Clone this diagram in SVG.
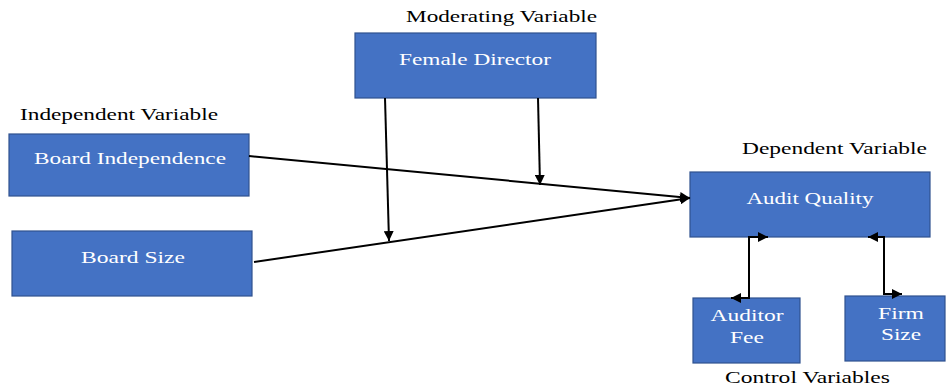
<svg xmlns="http://www.w3.org/2000/svg" width="946" height="387" viewBox="0 0 946 387" font-family="Liberation Serif, DejaVu Serif, serif">
<style>
.box{fill:#4472C4;stroke:#2F528F;stroke-width:1.2}
.bt{font-size:17px;fill:#ffffff;text-anchor:middle}
.lb{font-size:17px;fill:#000000}
.ln{fill:none;stroke:#000000;stroke-width:2}
</style>
<defs>
<marker id="ah" viewBox="0 0 10 10" refX="10" refY="5" markerWidth="5" markerHeight="5" orient="auto-start-reverse" markerUnits="strokeWidth">
<path d="M0,0 L10,5 L0,10 z" fill="#000000"/>
</marker>
</defs>
<text class="lb" font-family="Liberation Serif, serif" x="406" y="22" textLength="191" lengthAdjust="spacingAndGlyphs">Moderating Variable</text>
<text class="lb" font-family="Liberation Serif, serif" x="20" y="120" textLength="198" lengthAdjust="spacingAndGlyphs">Independent Variable</text>
<text class="lb" font-family="Liberation Serif, serif" x="742" y="154" textLength="185" lengthAdjust="spacingAndGlyphs">Dependent Variable</text>
<text class="lb" font-family="Liberation Serif, serif" x="725" y="383" textLength="165" lengthAdjust="spacingAndGlyphs">Control Variables</text>
<g id="female-director">
<rect class="box" x="355" y="33" width="241" height="65"/>
<text class="bt" font-family="Liberation Serif, serif" x="475" y="65" textLength="152" lengthAdjust="spacingAndGlyphs">Female Director</text>
</g>
<g id="board-independence">
<rect class="box" x="9" y="134" width="240" height="62"/>
<text class="bt" font-family="Liberation Serif, serif" x="130" y="164" textLength="192" lengthAdjust="spacingAndGlyphs">Board Independence</text>
</g>
<g id="board-size">
<rect class="box" x="12" y="231" width="240" height="65"/>
<text class="bt" font-family="Liberation Serif, serif" x="133" y="263" textLength="104" lengthAdjust="spacingAndGlyphs">Board Size</text>
</g>
<g id="audit-quality">
<rect class="box" x="690" y="172" width="240" height="65"/>
<text class="bt" font-family="Liberation Serif, serif" x="810" y="204" textLength="127" lengthAdjust="spacingAndGlyphs">Audit Quality</text>
</g>
<g id="auditor-fee">
<rect class="box" x="693" y="298" width="107" height="65"/>
<text class="bt" font-family="Liberation Serif, serif" x="747" y="321" textLength="73" lengthAdjust="spacingAndGlyphs">Auditor</text>
<text class="bt" font-family="Liberation Serif, serif" x="747" y="343" textLength="34" lengthAdjust="spacingAndGlyphs">Fee</text>
</g>
<g id="firm-size">
<rect class="box" x="845" y="296" width="100" height="65"/>
<text class="bt" font-family="Liberation Serif, serif" x="901" y="319" textLength="46" lengthAdjust="spacingAndGlyphs">Firm</text>
<text class="bt" font-family="Liberation Serif, serif" x="901" y="340" textLength="40" lengthAdjust="spacingAndGlyphs">Size</text>
</g>
<g id="connectors">
<path class="ln" d="M249,156 L690,198" marker-end="url(#ah)"/>
<path class="ln" d="M254,262 L690,198" marker-end="url(#ah)"/>
<path class="ln" d="M385,98 L389,241" marker-end="url(#ah)"/>
<path class="ln" d="M538,98 L540,185" marker-end="url(#ah)"/>
<path class="ln" d="M768,237 H749 V298 H731" marker-start="url(#ah)" marker-end="url(#ah)" stroke="#555555"/>
<path class="ln" d="M868,237 H884 V294 H902" marker-start="url(#ah)" marker-end="url(#ah)"/>
</g>
</svg>
